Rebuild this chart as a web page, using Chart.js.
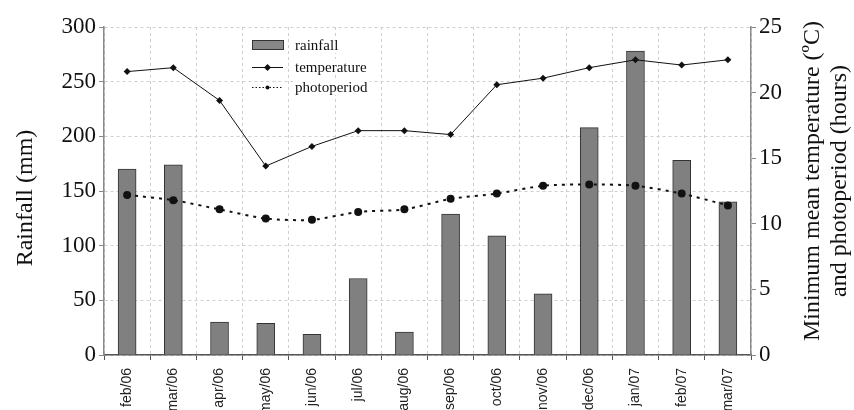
<!DOCTYPE html>
<html>
<head>
<meta charset="utf-8">
<script src="https://cdn.jsdelivr.net/npm/chart.js@4/dist/chart.umd.min.js"></script>
<style>
  html, body { margin: 0; padding: 0; background: #fff; }
  #wrap { width: 854px; height: 410px; }
</style>
</head>
<body>
<div id="wrap"><canvas id="c" width="854" height="410"></canvas></div>
<script>
// Monthly categories
const months = ['feb/06', 'mar/06', 'apr/06', 'may/06', 'jun/06', 'jul/06', 'aug/06',
                'sep/06', 'oct/06', 'nov/06', 'dec/06', 'jan/07', 'feb/07', 'mar/07'];
// Rainfall (mm), left axis
const rainfall = [170, 174, 30, 29, 19, 70, 21, 129, 109, 56, 208, 278, 178, 140];
// Minimum mean temperature (ºC), right axis
const temperature = [21.6, 21.9, 19.4, 14.4, 15.9, 17.1, 17.1, 16.8, 20.6, 21.1, 21.9, 22.5, 22.1, 22.5];
// Photoperiod (hours), right axis
const photoperiod = [12.2, 11.8, 11.1, 10.4, 10.3, 10.9, 11.1, 11.9, 12.3, 12.9, 13.0, 12.9, 12.3, 11.4];
// Axis tick values
const rainTicks = [0, 50, 100, 150, 200, 250, 300];
const rightTicks = [0, 5, 10, 15, 20, 25];

const SERIF = '"Liberation Serif", "Times New Roman", serif';
const SANS = '"Liberation Sans", Arial, sans-serif';
const AXIS_COLOR = '#8a8a8a';
const GRID_COLOR = '#cfcfcf';

// Axis titles and the in-plot legend
const decorations = {
  id: 'decorations',
  afterDraw(chart) {
    const ctx = chart.ctx;
    ctx.save();
    ctx.fillStyle = '#111';
    ctx.textAlign = 'center';
    ctx.textBaseline = 'middle';
    ctx.font = '24px ' + SERIF;
    // left title
    ctx.save();
    ctx.translate(26, 198);
    ctx.rotate(-Math.PI / 2);
    ctx.fillText('Rainfall (mm)', 0, 0);
    ctx.restore();
    // right title, two lines, reading upward
    ctx.save();
    ctx.translate(813, 181);
    ctx.rotate(-Math.PI / 2);
    ctx.fillText('Minimum mean temperature (ºC)', 0, 0);
    ctx.fillText('and photoperiod (hours)', 0, 27);
    ctx.restore();

    // legend
    const lx = 252, lw = 31, tx = 295;
    const rows = [45, 67, 87];
    ctx.font = '15px ' + SERIF;
    ctx.textAlign = 'left';
    const labels = ['rainfall', 'temperature', 'photoperiod'];
    labels.forEach((t, i) => {
      const w = ctx.measureText(t).width;
      ctx.fillStyle = '#fff';
      ctx.fillRect(tx - 2, rows[i] - 8, w + 4, 16);
    });
    // rainfall swatch
    ctx.fillStyle = '#888';
    ctx.fillRect(lx, rows[0] - 4.5, lw, 9);
    ctx.strokeStyle = '#333';
    ctx.lineWidth = 1;
    ctx.strokeRect(lx + 0.5, rows[0] - 4.5, lw, 9);
    // temperature swatch
    ctx.beginPath();
    ctx.moveTo(lx, rows[1] + 0.5);
    ctx.lineTo(lx + lw, rows[1] + 0.5);
    ctx.strokeStyle = '#111';
    ctx.stroke();
    ctx.fillStyle = '#111';
    ctx.beginPath();
    const dx = lx + lw / 2, dy = rows[1] + 0.5;
    ctx.moveTo(dx, dy - 3.5); ctx.lineTo(dx + 3.5, dy); ctx.lineTo(dx, dy + 3.5); ctx.lineTo(dx - 3.5, dy);
    ctx.closePath();
    ctx.fill();
    // photoperiod swatch
    ctx.beginPath();
    ctx.setLineDash([1.5, 2]);
    ctx.moveTo(lx, rows[2] + 0.5);
    ctx.lineTo(lx + lw, rows[2] + 0.5);
    ctx.stroke();
    ctx.setLineDash([]);
    ctx.beginPath();
    ctx.arc(lx + lw / 2, rows[2] + 0.5, 2, 0, Math.PI * 2);
    ctx.fill();
    // legend text
    ctx.fillStyle = '#111';
    labels.forEach((t, i) => ctx.fillText(t, tx, rows[i] + 1));
    ctx.restore();
  }
};

new Chart(document.getElementById('c'), {
  type: 'bar',
  data: {
    labels: months,
    datasets: [
      {
        type: 'line',
        label: 'temperature',
        data: temperature,
        yAxisID: 'y1',
        borderColor: '#111',
        borderWidth: 1,
        pointStyle: 'rectRot',
        pointRadius: 3.5,
        pointBackgroundColor: '#111',
        pointBorderColor: '#111',
        pointBorderWidth: 0,
        tension: 0,
        order: 1
      },
      {
        type: 'line',
        label: 'photoperiod',
        data: photoperiod,
        yAxisID: 'y1',
        borderColor: '#111',
        borderWidth: 2,
        borderDash: [3, 5],
        pointStyle: 'circle',
        pointRadius: 4,
        pointBackgroundColor: '#111',
        pointBorderColor: '#111',
        pointBorderWidth: 0,
        tension: 0.25,
        order: 2
      },
      {
        type: 'bar',
        label: 'rainfall',
        data: rainfall,
        yAxisID: 'y',
        backgroundColor: '#808080',
        borderColor: '#333',
        borderWidth: 1,
        borderSkipped: 'bottom',
        barThickness: 18,
        order: 3
      }
    ]
  },
  options: {
    responsive: false,
    animation: false,
    layout: { padding: { top: 27, left: 0, right: 0, bottom: 0 } },
    plugins: {
      legend: { display: false },
      tooltip: { enabled: false }
    },
    scales: {
      x: {
        offset: true,
        grid: {
          offset: true,
          color: GRID_COLOR,
          lineWidth: 1,
          drawTicks: true,
          tickLength: 5,
          tickColor: '#555',
          tickBorderDash: [10, 0]
        },
        border: { display: true, color: '#555', width: 1.5, dash: [3, 3] },
        ticks: {
          minRotation: 90,
          maxRotation: 90,
          autoSkip: false,
          padding: 8,
          color: '#222',
          font: { family: SANS, size: 14 }
        },
        afterFit(scale) { scale.height = 55; }
      },
      y: {
        position: 'left',
        min: 0,
        max: 300,
        afterBuildTicks(scale) { scale.ticks = rainTicks.map(v => ({ value: v })); },
        grid: {
          color: GRID_COLOR,
          lineWidth: 1,
          drawTicks: true,
          tickLength: 5,
          tickColor: AXIS_COLOR,
          tickBorderDash: [10, 0]
        },
        border: { display: true, color: AXIS_COLOR, width: 1.5, dash: [3, 3] },
        ticks: {
          padding: 3,
          color: '#111',
          font: { family: SERIF, size: 23 }
        },
        afterFit(scale) { scale.width = 104; }
      },
      y1: {
        position: 'right',
        min: 0,
        max: 25,
        afterBuildTicks(scale) { scale.ticks = rightTicks.map(v => ({ value: v })); },
        grid: {
          drawOnChartArea: false,
          drawTicks: true,
          tickLength: 5,
          tickColor: AXIS_COLOR,
          tickBorderDash: [10, 0]
        },
        border: { display: true, color: AXIS_COLOR, width: 1.5 },
        ticks: {
          padding: 3,
          color: '#111',
          font: { family: SERIF, size: 23 }
        },
        afterFit(scale) { scale.width = 103; }
      }
    }
  },
  plugins: [decorations]
});
</script>
</body>
</html>
